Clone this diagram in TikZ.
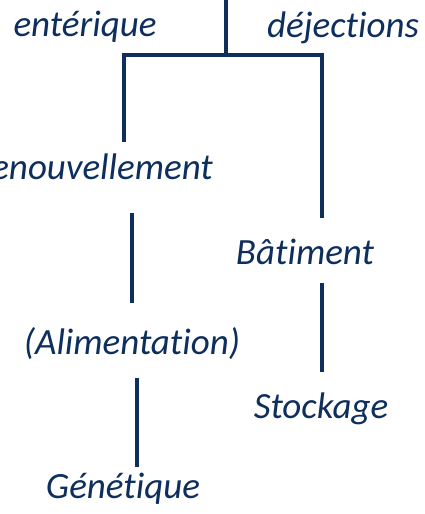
\documentclass[tikz,border=0pt]{standalone}
\usepackage{fontspec}
\setmainfont{Carlito}[Ligatures=NoCommon]
\definecolor{navy}{RGB}{14,47,94}
\begin{document}
\begin{tikzpicture}[x=1pt,y=-1pt,
  lbl/.style={text=navy,font=\fontsize{37}{44}\selectfont\itshape,inner sep=0pt,anchor=base},
  link/.style={draw=navy,line width=4pt,line cap=butt,line join=miter}]
\useasboundingbox (0,0) rectangle (424,514);
% labels
\node[lbl] (ent) at (85,36) {entérique};
\node[lbl] (dej) at (343,37) {déjections};
\node[lbl,anchor=base east] (ren) at (213,179) {Renouvellement};
\node[lbl] (bat) at (305,264) {Bâtiment};
\node[lbl] (ali) at (132,354) {(Alimentation)};
\node[lbl] (sto) at (321,418) {Stockage};
\node[lbl] (gen) at (123,498) {Génétique};
% line end points
\coordinate (top) at (226,0);
\coordinate (fork) at (226,55);
\coordinate (forkL) at (124,55);
\coordinate (forkR) at (322,55);
\coordinate (renUp) at (124,142);
\coordinate (batUp) at (322,218);
\coordinate (renDn) at (132,213);
\coordinate (aliUp) at (132,303);
\coordinate (batDn) at (322,283);
\coordinate (stoUp) at (322,372);
\coordinate (aliDn) at (137,378);
\coordinate (genUp) at (137,467);
% tree
\draw[link] (top) -- (fork);
\draw[link] (renUp) -- (forkL) -- (forkR) -- (batUp);
\draw[link] (renDn) -- (aliUp);
\draw[link] (batDn) -- (stoUp);
\draw[link] (aliDn) -- (genUp);
\end{tikzpicture}
\end{document}
